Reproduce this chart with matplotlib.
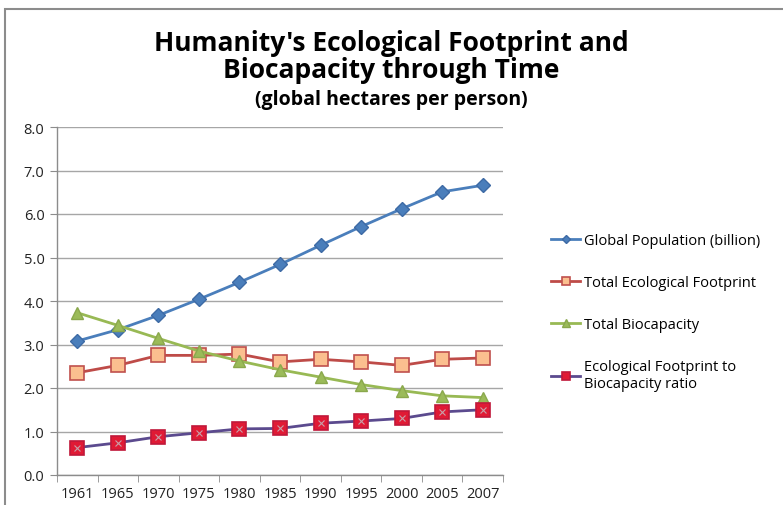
import numpy as np
import matplotlib
matplotlib.use("Agg")
import matplotlib.pyplot as plt
from matplotlib.patches import Rectangle

years = ["1961", "1965", "1970", "1975", "1980", "1985", "1990", "1995", "2000", "2005", "2007"]
population = [3.08, 3.34, 3.67, 4.04, 4.43, 4.84, 5.28, 5.71, 6.12, 6.51, 6.66]
footprint = [2.35, 2.52, 2.75, 2.75, 2.78, 2.60, 2.66, 2.60, 2.52, 2.66, 2.69]
biocapacity = [3.73, 3.44, 3.14, 2.85, 2.62, 2.42, 2.25, 2.08, 1.94, 1.82, 1.78]
ratio = [0.63, 0.74, 0.88, 0.97, 1.06, 1.07, 1.19, 1.24, 1.30, 1.45, 1.50]

plt.rcParams["font.family"] = ["Open Sans", "DejaVu Sans"]

fig = plt.figure(figsize=(7.83, 5.06), dpi=100)
fig.patch.set_facecolor("white")

# outer chart border (top and left edges visible)
fig.add_artist(Rectangle((5 / 783, -0.05), 1.2, (506 - 10) / 506 + 0.05,
                         transform=fig.transFigure, fill=False,
                         edgecolor="#8c8c8c", linewidth=1.5))

ax = fig.add_axes([57 / 783, (506 - 476) / 506, (503 - 57) / 783, (476 - 128) / 506])
x = np.arange(len(years))

ax.plot(x, population, color="#4a7ebb", lw=2, marker="D", ms=7,
        mfc="#4a7ebb", mec="#3d6aa5", label="Global Population (billion)")
ax.plot(x, footprint, color="#be4b48", lw=2, marker="s", ms=10,
        mfc="#fbbf8f", mec="#c0504d", mew=1.2, label="Total Ecological Footprint")
ax.plot(x, biocapacity, color="#98b954", lw=2, marker="^", ms=9,
        mfc="#9bbb59", mec="#8aa84c", label="Total Biocapacity")
ax.plot(x, ratio, color="#5b4a8e", lw=2, marker="s", ms=10,
        mfc="#e01a35", mec="#c0183a", mew=1.2,
        label="Ecological Footprint to\nBiocapacity ratio")
ax.plot(x, ratio, ls="none", marker="x", ms=5, mec="#c9a0a8", mew=0.8)

ax.set_xlim(-0.5, len(years) - 0.5)
ax.set_ylim(0, 8)
ax.set_yticks(np.arange(0, 8.1, 1.0))
ax.set_yticklabels([f"{v:.1f}" for v in np.arange(0, 8.1, 1.0)])
ax.set_xticks(x)
ax.set_xticklabels(years)
ax.set_xticks(np.arange(-0.5, len(years), 1.0), minor=True)
ax.tick_params(axis="x", which="major", length=0, pad=8, labelsize=10.5, colors="#222222")
ax.tick_params(axis="x", which="minor", length=5, color="#8c8c8c")
ax.tick_params(axis="y", length=5, color="#8c8c8c", labelsize=10.5, colors="#222222", pad=4)
ax.grid(axis="y", color="#a6a6a6", lw=1)
ax.set_axisbelow(True)
for side in ("top", "right"):
    ax.spines[side].set_visible(False)
for side in ("left", "bottom"):
    ax.spines[side].set_color("#8c8c8c")
    ax.spines[side].set_linewidth(1)

handles, labels = ax.get_legend_handles_labels()
fig.legend(handles[:4], labels[:4], loc="upper left",
           bbox_to_anchor=(538 / 783, 1 - 221 / 506), frameon=False,
           fontsize=10.5, labelspacing=1.85, handlelength=2.0,
           handletextpad=0.25, markerscale=0.6)

fig.text(0.5, 1 - 44 / 506, "Humanity's Ecological Footprint and",
         ha="center", va="center", fontsize=19, fontweight="bold")
fig.text(0.5, 1 - 71 / 506, "Biocapacity through Time",
         ha="center", va="center", fontsize=19, fontweight="bold")
fig.text(0.5, 1 - 100 / 506, "(global hectares per person)",
         ha="center", va="center", fontsize=14, fontweight="bold")

fig.savefig("out.png", dpi=100)
